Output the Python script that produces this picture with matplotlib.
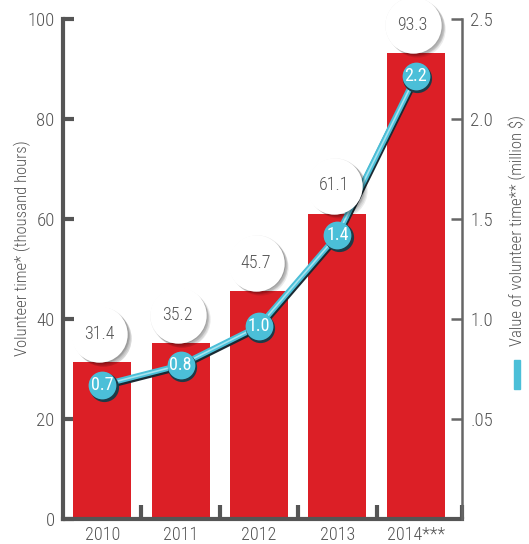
import numpy as np
import matplotlib
matplotlib.use('Agg')
import matplotlib.pyplot as plt
import matplotlib.transforms as mtransforms
from matplotlib.patches import Rectangle

plt.rcParams['font.family'] = ['Roboto Condensed', 'Fira Sans Condensed', 'DejaVu Sans']
plt.rcParams['font.weight'] = 'light'

# ── data ──
YEARS = ['2010', '2011', '2012', '2013', '2014***']
HOURS = [31.4, 35.2, 45.7, 61.1, 93.3]          # thousand hours (bars)
VALUE = [0.67, 0.77, 0.965, 1.42, 2.215]         # million $ (line)
VALUE_LABELS = ['0.7', '0.8', '1.0', '1.4', '2.2']
RIGHT_TICKS = [0.5, 1.0, 1.5, 2.0, 2.5]
RIGHT_TICKLABELS = ['.05', '1.0', '1.5', '2.0', '2.5']

RED = '#dc1f26'
CYAN = '#4bbfd8'
GREY = '#555555'

fig = plt.figure(figsize=(5.29, 5.44), dpi=100)
ax = fig.add_axes([63/529, 25/544, 399/529, 500/544])
ax2 = ax.twinx()

x = np.arange(len(YEARS))
ax.bar(x, HOURS, width=0.74, color=RED, zorder=2)
ax.set_xlim(-0.5, 4.59)
ax.set_ylim(0, 100)
ax2.set_ylim(0, 2.5)

# line on the right axis
sh = mtransforms.offset_copy(ax2.transData, fig, x=0.5, y=-1.5, units='dots')
ax2.plot(x, VALUE, color='#1a2a33', lw=5, transform=sh, zorder=2, solid_capstyle='round')
ax2.plot(x, VALUE, color=CYAN, lw=4, zorder=3, solid_capstyle='round')
ax2.plot(x, VALUE, color='#a6e3ef', lw=1.2, zorder=3)
shm = mtransforms.offset_copy(ax2.transData, fig, x=1.5, y=-1.5, units='dots')
ax2.plot(x, VALUE, 'o', ms=21, color='#1d3b47', mew=0, transform=shm, zorder=4)
ax2.plot(x, VALUE, 'o', ms=20, color=CYAN, mew=0, zorder=5)
for xi, v, lab in zip(x, VALUE, VALUE_LABELS):
    ax2.text(xi, v, lab, ha='center', va='center', color='white',
             fontsize=13, fontweight='normal', zorder=6)

# value bubbles above bars (white disc with soft shadow), drawn over the line
for xi, h in zip(x, HOURS):
    for k in range(1, 7):
        tr = mtransforms.offset_copy(ax.transData, fig, x=-3 + k*0.7, y=28 - k*0.7, units='dots')
        ax2.scatter([xi], [h], s=1650, color='black', alpha=0.08, transform=tr,
                    linewidths=0, zorder=7, clip_on=False)
    tr = mtransforms.offset_copy(ax.transData, fig, x=-3, y=28, units='dots')
    ax2.scatter([xi], [h], s=1650, color='white', transform=tr, linewidths=0,
                zorder=8, clip_on=False)
    ax2.text(xi, h, f'{h:.1f}', transform=tr, ha='center', va='center',
             fontsize=13, color=GREY, zorder=9)

# spines and ticks
ax.spines['top'].set_visible(False)
ax2.spines['top'].set_visible(False)
ax2.spines['left'].set_visible(False)
ax2.spines['bottom'].set_visible(False)
ax.spines['right'].set_visible(False)
ax.spines['left'].set_linewidth(3)
ax.spines['left'].set_color(GREY)
ax.spines['bottom'].set_linewidth(3)
ax.spines['bottom'].set_color(GREY)
ax2.spines['right'].set_linewidth(1.8)
ax2.spines['right'].set_color('#666666')

ax.set_yticks([0, 20, 40, 60, 80, 100])
ax.tick_params(axis='y', direction='in', length=8, width=3, color=GREY,
               labelsize=13.5, labelcolor=GREY, pad=6)
ax.set_xticks(x)
ax.set_xticklabels(YEARS)
ax.tick_params(axis='x', length=0, labelsize=13, labelcolor=GREY, pad=5)
ax.set_xticks(list(np.arange(len(YEARS) - 1) + 0.5) + [4.59], minor=True)
ax.tick_params(axis='x', which='minor', direction='in', length=10, width=3, color=GREY)

ax2.set_yticks(RIGHT_TICKS)
ax2.set_yticklabels(RIGHT_TICKLABELS)
ax2.tick_params(axis='y', direction='in', length=8, width=1.8, color='#666666',
                labelsize=13.5, labelcolor=GREY, pad=6)

fig.text(22/529, (544-248)/544, 'Volunteer time* (thousand hours)', rotation=90,
         ha='center', va='center', fontsize=12, color=GREY)
fig.text(517/529, (544-231)/544, 'Value of volunteer time** (million $)', rotation=90,
         ha='center', va='center', fontsize=12, color=GREY)

# small legend swatch under right label
fig.patches.append(Rectangle((514/529, (544-389)/544), 6/529, 29/544,
                             transform=fig.transFigure, color=CYAN))

fig.savefig('out.png', dpi=100)
